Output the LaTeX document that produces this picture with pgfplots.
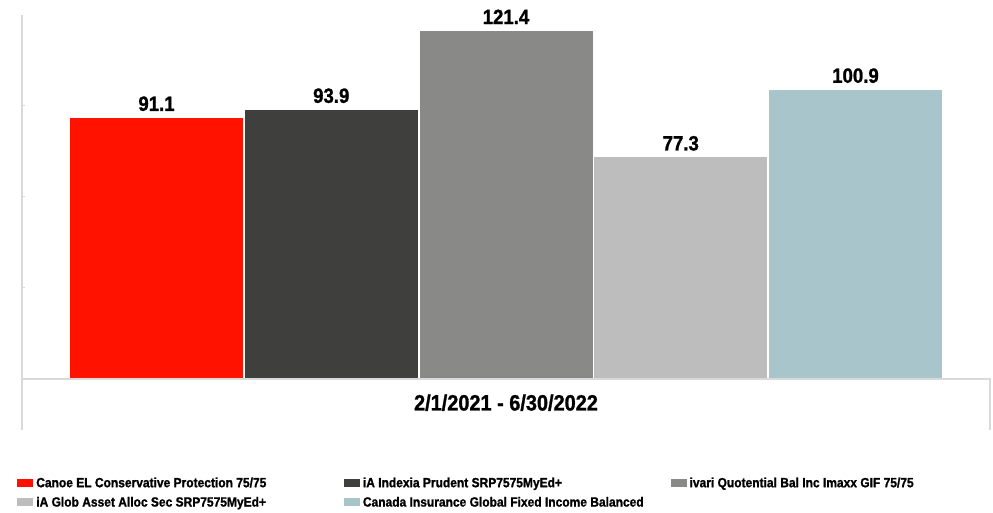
\documentclass[border=0pt]{standalone}
\usepackage{fontspec}
\setmainfont[FakeStretch=0.9, BoldFeatures={FakeBold=1.2}]{Liberation Sans}
\usepackage{pgfplots}
\pgfplotsset{compat=1.18}

\definecolor{cRed}{HTML}{FF1200}
\definecolor{cDark}{HTML}{3F3F3D}
\definecolor{cGray}{HTML}{898987}
\definecolor{cLight}{HTML}{BDBDBD}
\definecolor{cTeal}{HTML}{A7C5CA}
\definecolor{cLine}{HTML}{D9D9D9}

\newcommand{\legtxt}[1]{\makebox[233pt][l]{\hspace{2.25pt}\rule[-2pt]{0pt}{10pt}#1}}

\begin{document}
\begin{tikzpicture}
\path[use as bounding box] (-16.5pt,-100.5pt) rectangle (728.25pt,284.25pt);
\begin{axis}[
    at={(0,0)}, anchor=south west,
    scale only axis, clip=false,
    width=726pt, height=273pt,
    xmin=-0.7697, xmax=4.7697,
    ymin=0, ymax=127,
    ybar, bar width=0.99, bar shift=0pt,
    axis line style={draw=none},
    xtick={2},
    xticklabels={2/1/2021 - 6/30/2022},
    xticklabel style={font=\bfseries\fontsize{16.6}{18}\selectfont, anchor=center, yshift=-15.75pt},
    major x tick style={draw=none},
    ytick={31.75,63.5,95.25},
    ytick pos=left,
    yticklabels={},
    y tick style={draw=cLine, line width=0.75pt},
    major tick length=2pt,
    nodes near coords,
    every node near coord/.append style={
        font=\bfseries\fontsize{15.5}{17}\selectfont, text=black,
        anchor=base, inner sep=0pt, yshift=5.25pt,
        /pgf/number format/fixed, /pgf/number format/fixed zerofill,
        /pgf/number format/precision=1,
        /pgf/number format/assume math mode=true},
    legend columns=3,
    legend cell align=left,
    legend style={
        at={(axis description cs:-0.0093,-0.26)}, anchor=north west,
        draw=none, fill=none,
        font=\bfseries\fontsize{10}{11}\selectfont,
        nodes={inner sep=0pt},
        column sep=0pt, row sep=5pt},
    area legend,
    legend image code/.code={\fill[#1] (0pt,-3pt) rectangle (12pt,3pt);},
]
\addplot[fill=cRed, draw=none] coordinates {(0,91.1)};
\addlegendentry{\legtxt{Canoe EL Conservative Protection 75/75}}
\addplot[fill=cDark, draw=none] coordinates {(1,93.9)};
\addlegendentry{\legtxt{iA Indexia Prudent SRP7575MyEd+}}
\addplot[fill=cGray, draw=none] coordinates {(2,121.4)};
\addlegendentry{\legtxt{ivari Quotential Bal Inc Imaxx GIF 75/75}}
\addplot[fill=cLight, draw=none] coordinates {(3,77.3)};
\addlegendentry{\legtxt{iA Glob Asset Alloc Sec SRP7575MyEd+}}
\addplot[fill=cTeal, draw=none] coordinates {(4,100.9)};
\addlegendentry{\legtxt{Canada Insurance Global Fixed Income Balanced}}
\draw[cLine, line width=1.1pt] (rel axis cs:0,1) -- (rel axis cs:0,0) -- ++(0pt,-38.25pt);
\draw[cLine, line width=1.1pt] (rel axis cs:0,0) -- (rel axis cs:1,0) -- ++(0pt,-38.25pt);
\end{axis}
\end{tikzpicture}
\end{document}
